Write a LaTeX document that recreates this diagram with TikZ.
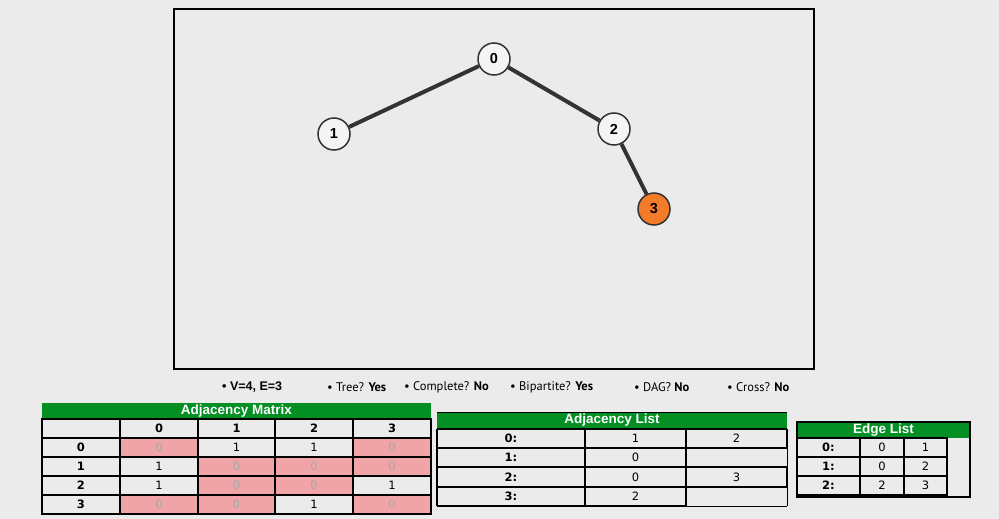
\documentclass[tikz,border=0pt]{standalone}
\usepackage{fontspec}
\setmainfont{Liberation Sans}
\newfontfamily\cellfont{DejaVu Sans}
\newfontfamily\statfont{PT Sans}
\definecolor{bg}{HTML}{EBEBEB}
\definecolor{hdr}{HTML}{038F23}
\definecolor{pinkc}{HTML}{F0A4A7}
\definecolor{zerog}{HTML}{A8A8A8}
\definecolor{edgec}{HTML}{333333}
\definecolor{orangec}{HTML}{F47B2A}
\definecolor{vfill}{HTML}{F4F4F4}
\tikzset{
  vertex/.style={circle, minimum size=32pt, inner sep=0pt, draw=edgec, line width=1.5pt,
    fill=vfill, font=\bfseries\fontsize{14.5}{14}\selectfont},
  hot/.style={fill=orangec},
  link/.style={draw=edgec, line width=4pt},
  hdrtext/.style={text=white, font=\bfseries\fontsize{13.5}{14}\selectfont, inner sep=0pt},
  cell/.style={inner sep=0pt, font=\cellfont\fontsize{11.5}{12}\selectfont},
  rowlab/.style={cell, font=\cellfont\bfseries\fontsize{11.5}{12}\selectfont},
  mc0/.style={cell, fill=pinkc, text=zerog, minimum width=78pt, minimum height=19pt},
  mc1/.style={cell, text=black, minimum width=78pt, minimum height=19pt},
  gridthin/.style={line width=1.3pt},
  gridthick/.style={line width=1.8pt},
  stat/.style={anchor=west, inner sep=0pt, font=\statfont\fontsize{12.5}{13}\selectfont},
}
\begin{document}
\begin{tikzpicture}[x=1pt,y=-1pt]
\fill[bg] (0,0) rectangle (999,519);
\useasboundingbox (0,0) rectangle (999,519);

% graph canvas
\draw[line width=2pt] (174,9) rectangle (814,369);
\node[vertex] (v0) at (494,59) {0};
\node[vertex] (v1) at (334,134) {1};
\node[vertex] (v2) at (614,129) {2};
\node[vertex, hot] (v3) at (654,209) {3};
\draw[link] (v0) -- (v1);
\draw[link] (v0) -- (v2);
\draw[link] (v2) -- (v3);

% properties line
\node[stat, font=\bfseries\fontsize{12.5}{13}\selectfont] (sV) at (222,387.5) {\textbullet{} V=4, E=3};
\node[stat] (sT) at (327,387.5) {\textbullet{} Tree? \textbf{Yes}};
\node[stat] (sC) at (404,387.5) {\textbullet{} Complete? \textbf{No}};
\node[stat] (sB) at (510,387.5) {\textbullet{} Bipartite? \textbf{Yes}};
\node[stat] (sD) at (634,387.5) {\textbullet{} DAG? \textbf{No}};
\node[stat] (sX) at (727,387.5) {\textbullet{} Cross? \textbf{No}};

% adjacency matrix
\fill[hdr] (42,403) rectangle (431,419);
\node[hdrtext] (mh) at (236.5,411.5) {Adjacency Matrix};
\foreach \r/\a/\b/\c/\d in {0/0/1/1/0, 1/1/0/0/0, 2/1/0/0/1, 3/0/0/1/0}{
  \pgfmathsetmacro{\yy}{447.5+19*\r}
  \node[rowlab] (ml\r) at (81,\yy) {\r};
  \node[mc\a] (m\r a) at (159,\yy) {\a};
  \node[mc\b] (m\r b) at (236.5,\yy) {\b};
  \node[mc\c] (m\r c) at (314,\yy) {\c};
  \node[mc\d] (m\r d) at (392,\yy) {\d};
}
\foreach \c/\x in {0/159,1/236.5,2/314,3/392}
  \node[rowlab] (mc\c) at (\x,428.5) {\c};
\draw[gridthin] (42,419) rectangle (431,514);
\foreach \y in {438,457,476,495} \draw[gridthin] (42,\y) -- (431,\y);
\foreach \x in {120,198,275,353} \draw[gridthin] (\x,419) -- (\x,514);

% adjacency list
\fill[hdr] (437,412) rectangle (787,429);
\draw[line width=0.8pt] (437,412) -- (787,412);
\node[hdrtext] (lh) at (612,420.5) {Adjacency List};
\foreach \y in {429,448,467,487} \draw[gridthick] (437,\y) -- (787,\y);
\draw[gridthick] (437,506) -- (686,506);
\draw[line width=0.9pt] (686,506) -- (787,506);
\foreach \x in {437,585,686} \draw[gridthick] (\x,429) -- (\x,506);
\draw[gridthick] (787,429) -- (787,448);
\draw[line width=0.9pt] (787,448) -- (787,467);
\draw[gridthick] (787,467) -- (787,487);
\draw[line width=0.9pt] (787,487) -- (787,506);
\node[rowlab] (l0) at (511,438.5) {0:};
\node[rowlab] (l1) at (511,457.5) {1:};
\node[rowlab] (l2) at (511,477) {2:};
\node[rowlab] (l3) at (511,496.5) {3:};
\node[cell] (l0a) at (635.5,438.5) {1};
\node[cell] (l0b) at (736.5,438.5) {2};
\node[cell] (l1a) at (635.5,457.5) {0};
\node[cell] (l2a) at (635.5,477) {0};
\node[cell] (l2b) at (736.5,477) {3};
\node[cell] (l3a) at (635.5,496.5) {2};

% edge list
\fill[hdr] (797,422) rectangle (970,438);
\node[hdrtext] (eh) at (883.5,430.5) {Edge List};
\draw[gridthin] (797,422) rectangle (970,497);
\draw[gridthick] (797,438) rectangle (947,495);
\foreach \y in {457,476} \draw[gridthick] (797,\y) -- (947,\y);
\foreach \x in {860,904} \draw[gridthick] (\x,438) -- (\x,495);
\foreach \r/\u/\v in {0/0/1, 1/0/2, 2/2/3}{
  \pgfmathsetmacro{\yy}{447.5+19*\r}
  \node[rowlab] (e\r) at (828.5,\yy) {\r:};
  \node[cell] (e\r u) at (882,\yy) {\u};
  \node[cell] (e\r v) at (925.5,\yy) {\v};
}
\end{tikzpicture}
\end{document}
